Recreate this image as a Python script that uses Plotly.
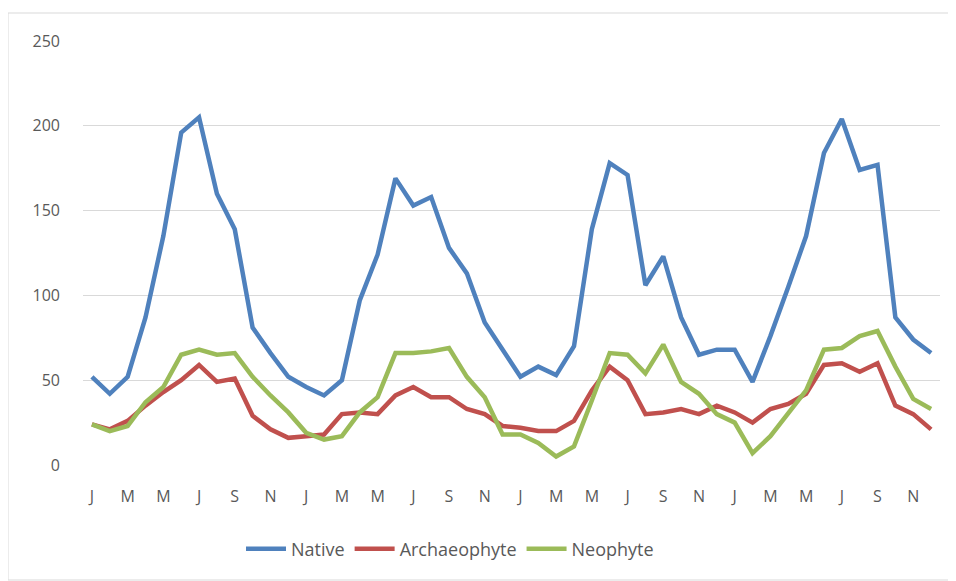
import plotly.graph_objects as go

months = list(range(48))
month_labels = ["J", "M", "M", "J", "S", "N"] * 4
tick_positions = list(range(0, 48, 2))

native = [52, 42, 52, 87, 135, 196, 205, 160, 139, 81, 66, 52,
          46, 41, 50, 97, 124, 169, 153, 158, 128, 113, 84, 68,
          52, 58, 53, 70, 139, 178, 171, 106, 123, 87, 65, 68,
          68, 49, 76, 105, 135, 184, 204, 174, 177, 87, 74, 66]
archaeophyte = [24, 21, 26, 35, 43, 50, 59, 49, 51, 29, 21, 16,
                17, 18, 30, 31, 30, 41, 46, 40, 40, 33, 30, 23,
                22, 20, 20, 26, 44, 58, 50, 30, 31, 33, 30, 35,
                31, 25, 33, 36, 42, 59, 60, 55, 60, 35, 30, 21]
neophyte = [24, 20, 23, 37, 46, 65, 68, 65, 66, 52, 41, 31,
            19, 15, 17, 31, 40, 66, 66, 67, 69, 52, 40, 18,
            18, 13, 5, 11, 38, 66, 65, 54, 71, 49, 42, 30,
            25, 7, 17, 30, 44, 68, 69, 76, 79, 58, 39, 33]

series = [("Native", native, "#4F81BD"),
          ("Archaeophyte", archaeophyte, "#C0504D"),
          ("Neophyte", neophyte, "#9BBB59")]

fig = go.Figure()
for name, vals, color in series:
    fig.add_trace(go.Scatter(x=months, y=vals, mode="lines", name=name,
                             line=dict(color=color, width=4.5)))

# page body adds an 8px offset; work in reference pixel coords minus 8
OFF = 8
W, H = 956, 581
ml, mt = 83 - OFF, 41 - OFF
mr = W - (940 - OFF)
mb = H - (465 - OFF)
pw, ph = W - ml - mr, H - mt - mb

def px_x(p):
    return (p - OFF - ml) / pw

def px_y(p):
    return (H - mb - (p - OFF)) / ph

fig.update_layout(
    width=W, height=H,
    margin=dict(l=ml, r=mr, t=mt, b=mb),
    paper_bgcolor="white", plot_bgcolor="white",
    font=dict(family="Open Sans, Liberation Sans, sans-serif", size=16, color="#595959"),
    showlegend=True,
    legend=dict(orientation="h", xanchor="center", yanchor="middle",
                x=px_x(450), y=px_y(549), font=dict(size=18, color="#595959"),
                itemwidth=40, traceorder="normal"),
    xaxis=dict(range=[-0.5, 47.5], tickmode="array", tickvals=tick_positions,
               ticktext=month_labels, showgrid=False, zeroline=False,
               showline=False, ticks="", ticklabelstandoff=20,
               tickfont=dict(size=16, color="#595959")),
    yaxis=dict(range=[0, 250], tickmode="array", tickvals=[0, 50, 100, 150, 200, 250],
               showgrid=True, gridcolor="#D9D9D9", gridwidth=1, zeroline=False,
               showline=False, ticks="", ticklabelstandoff=22,
               tickfont=dict(size=16, color="#595959")),
    shapes=[dict(type="rect", xref="paper", yref="paper",
                 x0=px_x(8), x1=px_x(970), y0=px_y(580), y1=px_y(13),
                 line=dict(color="#D9D9D9", width=1), fillcolor="rgba(0,0,0,0)",
                 layer="below")],
)

fig.write_html("out.html")
